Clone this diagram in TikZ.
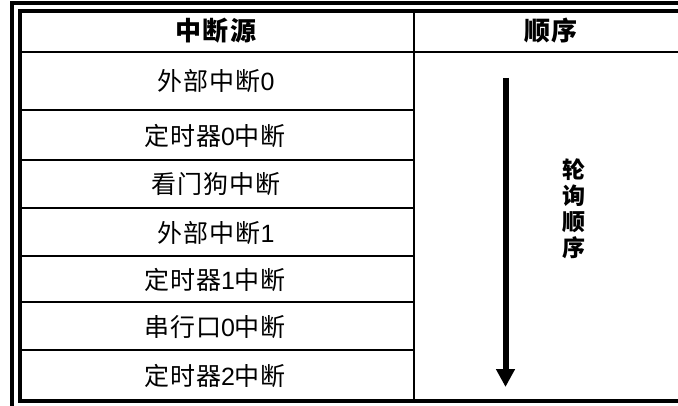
\documentclass[tikz,border=0pt]{standalone}
\usepackage{fontspec}
\setmainfont{Noto Sans CJK SC}[LetterSpace=4]
\newfontfamily\latin{Liberation Sans}
\usetikzlibrary{arrows.meta}

\tikzset{
    frame/.style={line width=4pt, line join=miter},
    rule/.style={line width=2pt},
    cell/.style={font=\fontsize{25}{28}\selectfont},
    head/.style={font=\fontsize{26}{28}\selectfont\bfseries},
}

\begin{document}
\begin{tikzpicture}[x=1pt, y=-1pt]
        \useasboundingbox (0, 0) rectangle (678, 406);

        \draw[frame] (12, 406) -- (12, 3) -- (678, 3);
        \draw[frame] (678, 11) -- (20, 11) -- (20, 401) -- (678, 401);

        \draw[line width=2.5pt] (20, 52) -- (678, 52);
        \draw[rule] (414, 11) -- (414, 401);
        \draw[rule] (20, 110.5) -- (414, 110.5);
        \draw[rule] (20, 160) -- (414, 160);
        \draw[rule] (20, 208.5) -- (414, 208.5);
        \draw[rule] (20, 256.5) -- (414, 256.5);
        \draw[rule] (20, 302.5) -- (414, 302.5);
        \draw[rule] (20, 350.5) -- (414, 350.5);

        \node[head] (src) at (216, 31) {中断源};
        \node[head] (order) at (551, 31) {顺序};

        \node[cell] (ext0) at (216, 81.5) {外部中断{\latin 0}};
        \node[cell] (tmr0) at (215, 135.5) {定时器{\latin 0}中断};
        \node[cell] (wdog) at (216, 184.5) {看门狗中断};
        \node[cell] (ext1) at (216, 233) {外部中断{\latin 1}};
        \node[cell] (tmr1) at (215, 280) {定时器{\latin 1}中断};
        \node[cell] (uart0) at (215, 327) {串行口{\latin 0}中断};
        \node[cell] (tmr2) at (215, 376) {定时器{\latin 2}中断};

        \node[font=\fontsize{23}{26}\selectfont\bfseries, align=center] (poll) at (574, 209) {轮\\询\\顺\\序};

        \coordinate (start) at (505.5, 78);
        \coordinate (stop) at (505.5, 387);
        \draw[line width=6pt, -{Triangle[width=18pt, length=18pt]}] (start) -- (stop);
    \end{tikzpicture}
\end{document}
